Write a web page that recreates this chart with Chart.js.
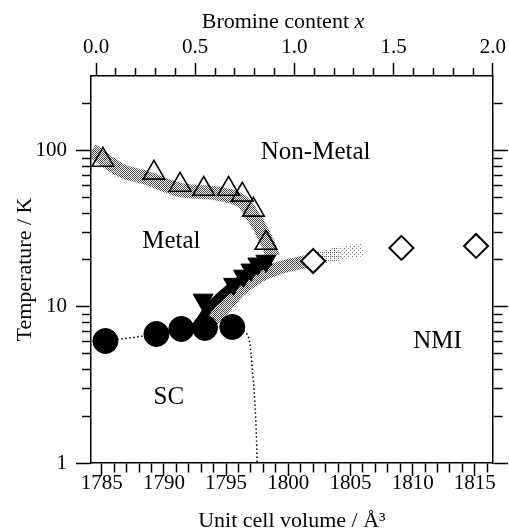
<!DOCTYPE html>
<html>
<head>
<meta charset="utf-8">
<script src="https://cdn.jsdelivr.net/npm/chart.js@4.4.1/dist/chart.umd.min.js"></script>
<style>
  html, body { margin: 0; padding: 0; background: #fff; }
</style>
</head>
<body>
<canvas id="phaseChart" width="509" height="531"></canvas>
<script>
// Phase diagram: transition temperatures against unit cell volume.

// open triangles: metal / non-metal crossover
const ntVolume = [1785.1, 1789.2, 1791.3, 1793.2, 1795.2, 1796.3, 1797.2, 1798.2];
const ntTemp = [87.5, 72.3, 60.5, 57.0, 57.0, 52.3, 41.9, 25.7];
// filled down triangles: metal / NMI
const mtVolume = [1793.15, 1795.6, 1796.4, 1797.0, 1797.55, 1798.2];
const mtTemp = [11.1, 14.0, 15.8, 17.3, 18.9, 19.7];
// filled circles: superconducting Tc
const scVolume = [1785.3, 1789.4, 1791.4, 1793.3, 1795.5];
const scTemp = [6.05, 6.71, 7.23, 7.34, 7.44];
// open diamonds: NMI
const nmiVolume = [1802.0, 1809.1, 1815.1];
const nmiTemp = [19.7, 23.9, 24.6];

// guide curves
const scCurveVolume = [1785.3, 1789.4, 1791.4, 1793.3, 1795.5, 1796.5, 1796.9, 1797.1, 1797.3, 1797.45, 1797.5];
const scCurveTemp = [6.05, 6.71, 7.23, 7.34, 7.44, 6.9, 5.9, 4.1, 2.54, 1.4, 1.0];
const upperBandVolume = [1784.2, 1786.5, 1788.6, 1791.3, 1793.9, 1796.1, 1797.2, 1798.1, 1798.8];
const upperBandTemp = [101, 75.5, 67.1, 56.3, 53.8, 48.5, 37.8, 28.1, 20.9];
const darkBandVolume = [1792.8, 1793.6, 1795.0, 1796.5, 1797.8, 1798.6];
const darkBandTemp = [7.8, 9.8, 12.6, 15.6, 18.4, 19.8];
const lowerBandVolume = [1793.4, 1794.8, 1796.2, 1797.7, 1799.4, 1802.0, 1804.1, 1806.0];
const lowerBandTemp = [7.4, 9.8, 13.0, 15.8, 17.9, 20.0, 22.0, 23.2];

// tick labels
const volumeTicks = [1785, 1790, 1795, 1800, 1805, 1810, 1815];
const bromineTicks = [0.0, 0.5, 1.0, 1.5, 2.0];
const tempTicks = [1, 10, 100];

// region labels
const regionNames = ['Non-Metal', 'Metal', 'SC', 'NMI'];
const regionVolume = [1802.2, 1790.6, 1790.4, 1812.0];
const regionTemp = [98, 26.1, 2.65, 5.97];

const pts = (xs, ys) => xs.map((v, i) => ({ x: v, y: ys[i] }));

const canvas = document.getElementById('phaseChart');
const ctx = canvas.getContext('2d');

// little halftone tiles for the shaded bands
function stipple(size, cells, color) {
  const c = document.createElement('canvas');
  c.width = c.height = size;
  const g = c.getContext('2d');
  g.fillStyle = color;
  cells.forEach(([a, b]) => g.fillRect(a, b, 1, 1));
  return ctx.createPattern(c, 'repeat');
}
const grayDots = stipple(2, [[0, 0], [1, 1]], '#4a4a4a');
const fadeDots = stipple(4, [[0, 0], [2, 2], [2, 0]], '#555');
const faintDots = stipple(4, [[0, 0], [2, 2]], '#777');

const serif = '"Liberation Serif", "Times New Roman", serif';

// minor tick positions
const volumeMinor = [];
for (let v = 1785; v <= 1816; v++) volumeMinor.push(v);
const bromineMinor = [];
for (let i = 0; i <= 20; i++) bromineMinor.push(i / 10);
const tempMinor = [];
[1, 10, 100].forEach(d => { for (let k = 1; k <= 9; k++) if (d * k < 300) tempMinor.push(d * k); });

const isMajorVol = v => volumeTicks.includes(v);
const isMajorBr = v => bromineTicks.some(b => Math.abs(b - v) < 1e-6);
const isMajorT = v => tempTicks.includes(v);

// minor ticks are drawn as the inner part of a full-length tick
const outDash = (major, len) => major ? [] : [len, 100];
const inDash = (major, full, len) => major ? [] : [0, full - len, len, 100];

const axisGrid = (tl, dash) => ({
  drawOnChartArea: false,
  color: '#000',
  tickColor: '#000',
  tickWidth: 1.5,
  tickLength: tl,
  tickBorderDash: dash
});
const axisBorder = { color: '#000', width: 1.5 };

const labelPlugin = {
  id: 'phaseLabels',
  afterDatasetsDraw(chart) {
    const { ctx: c, scales: { x, y } } = chart;
    c.save();
    c.fillStyle = '#000';
    c.font = '25px ' + serif;
    c.textAlign = 'center';
    c.textBaseline = 'middle';
    regionNames.forEach((t, i) => {
      c.fillText(t, x.getPixelForValue(regionVolume[i]), y.getPixelForValue(regionTemp[i]));
    });
    c.restore();
  },
  afterDraw(chart) {
    const c = chart.ctx;
    c.save();
    c.fillStyle = '#000';
    c.textBaseline = 'alphabetic';
    c.textAlign = 'left';
    const a = 'Bromine content ';
    c.font = '22px ' + serif;
    const wa = c.measureText(a).width;
    c.font = 'italic 22px ' + serif;
    const wb = c.measureText('x').width;
    const x0 = 283 - (wa + wb) / 2;
    c.font = '22px ' + serif;
    c.fillText(a, x0, 28);
    c.font = 'italic 22px ' + serif;
    c.fillText('x', x0 + wa, 28);
    c.restore();
  }
};

new Chart(ctx, {
  type: 'scatter',
  data: {
    datasets: [
      {
        label: 'crossover',
        data: pts(ntVolume, ntTemp),
        pointStyle: 'triangle',
        pointRadius: 12.5,
        borderColor: '#000',
        borderWidth: 1.6,
        backgroundColor: 'rgba(0,0,0,0)'
      },
      {
        label: 'M-NMI',
        data: pts(mtVolume, mtTemp),
        pointStyle: 'triangle',
        rotation: 180,
        pointRadius: 11.5,
        borderColor: '#000',
        borderWidth: 1,
        backgroundColor: '#000'
      },
      {
        label: 'Tc',
        data: pts(scVolume, scTemp),
        pointStyle: 'circle',
        pointRadius: 12.5,
        borderColor: '#000',
        borderWidth: 1,
        backgroundColor: '#000'
      },
      {
        label: 'NMI',
        data: pts(nmiVolume, nmiTemp),
        pointStyle: 'rectRot',
        pointRadius: 12,
        borderColor: '#000',
        borderWidth: 2,
        backgroundColor: '#fff'
      },
      {
        label: 'sc curve',
        data: pts(scCurveVolume, scCurveTemp),
        showLine: true,
        pointRadius: 0,
        borderColor: '#000',
        borderWidth: 1.5,
        borderDash: [1.5, 2.5],
        cubicInterpolationMode: 'monotone'
      },
      {
        label: 'dark band',
        data: pts(darkBandVolume, darkBandTemp),
        showLine: true,
        pointRadius: 0,
        borderColor: '#000',
        borderWidth: 9,
        tension: 0.4
      },
      {
        label: 'lower band',
        data: pts(lowerBandVolume, lowerBandTemp),
        showLine: true,
        pointRadius: 0,
        borderColor: grayDots,
        borderWidth: 13,
        tension: 0.4,
        segment: {
          borderColor: s => s.p0.parsed.x >= 1804 ? faintDots : (s.p0.parsed.x >= 1802 ? fadeDots : undefined)
        }
      },
      {
        label: 'upper band',
        data: pts(upperBandVolume, upperBandTemp),
        showLine: true,
        pointRadius: 0,
        borderColor: grayDots,
        borderWidth: 14,
        tension: 0.4
      }
    ]
  },
  options: {
    responsive: false,
    animation: false,
    events: [],
    layout: { padding: 0 },
    plugins: { legend: { display: false }, tooltip: { enabled: false } },
    scales: {
      x: {
        type: 'linear',
        position: 'bottom',
        min: 1784.14,
        max: 1816.45,
        afterBuildTicks: s => { s.ticks = volumeMinor.map(v => ({ value: v })); },
        afterFit: s => { s.height = 68; },
        ticks: {
          autoSkip: false,
          maxRotation: 0,
          padding: -5,
          color: '#000',
          font: { family: serif, size: 21 },
          callback: v => isMajorVol(v) ? String(v) : ''
        },
        grid: axisGrid(13, c => outDash(isMajorVol(c.tick.value), 9)),
        border: axisBorder,
        title: {
          display: true,
          text: 'Unit cell volume / Å³',
          color: '#000',
          font: { family: serif, size: 22 },
          padding: { top: 0, bottom: -3 }
        }
      },
      xTop: {
        type: 'linear',
        axis: 'x',
        position: 'top',
        min: -0.0252,
        max: 2.0,
        afterBuildTicks: s => { s.ticks = bromineMinor.map(v => ({ value: v })); },
        afterFit: s => { s.height = 76; },
        ticks: {
          autoSkip: false,
          maxRotation: 0,
          padding: 3,
          color: '#000',
          font: { family: serif, size: 21 },
          callback: v => isMajorBr(v) ? v.toFixed(1) : ''
        },
        grid: axisGrid(13, c => inDash(isMajorBr(c.tick.value), 13, 8)),
        border: axisBorder
      },
      y: {
        type: 'logarithmic',
        position: 'left',
        min: 1,
        max: 302,
        afterBuildTicks: s => { s.ticks = tempMinor.map(v => ({ value: v })); },
        afterFit: s => { s.width = 91; },
        ticks: {
          autoSkip: false,
          padding: 9,
          color: '#000',
          font: { family: serif, size: 21 },
          callback: v => isMajorT(v) ? String(v) : ''
        },
        grid: axisGrid(15, c => inDash(isMajorT(c.tick.value), 15, 9)),
        border: axisBorder,
        title: {
          display: true,
          text: 'Temperature / K',
          color: '#000',
          font: { family: serif, size: 22 },
          padding: { top: 12, bottom: 0 }
        }
      },
      yRight: {
        type: 'logarithmic',
        axis: 'y',
        position: 'right',
        min: 1,
        max: 302,
        afterBuildTicks: s => { s.ticks = tempMinor.map(v => ({ value: v })); },
        afterFit: s => { s.width = 16; },
        ticks: { display: false, autoSkip: false },
        grid: axisGrid(15, c => outDash(isMajorT(c.tick.value), 9)),
        border: axisBorder
      }
    }
  },
  plugins: [labelPlugin]
});
</script>
</body>
</html>
